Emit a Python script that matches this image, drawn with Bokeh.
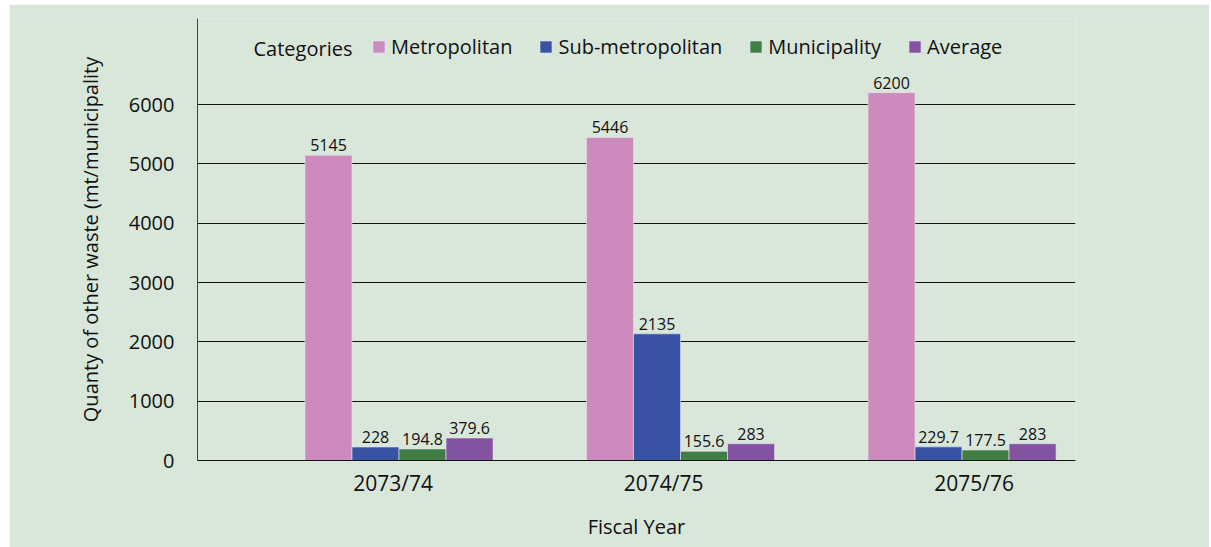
from bokeh.plotting import figure
from bokeh.models import (ColumnDataSource, Range1d, FixedTicker, Legend, LegendItem,
                          Label, LabelSet, Spacer)
from bokeh.layouts import column, row
from bokeh.core.properties import value
from bokeh.embed import file_html
from bokeh.resources import INLINE

# ---- data ----
fiscal_years = ["2073/74", "2074/75", "2075/76"]
series_names = ["Metropolitan", "Sub-metropolitan", "Municipality", "Average"]
metropolitan = [5145, 5446, 6200]
sub_metropolitan = [228, 2135, 229.7]
municipality = [194.8, 155.6, 177.5]
average = [379.6, 283, 283]
y_ticks = [0, 1000, 2000, 3000, 4000, 5000, 6000]

# ---- style ----
colors = ["#cd8abd", "#3853a4", "#3f7f45", "#8352a1"]
BG = "#d9e6da"
FONT = "Open Sans"
TXT = "#111111"
bar_w = 0.167
offsets = [-1.5 * bar_w, -0.5 * bar_w, 0.5 * bar_w, 1.5 * bar_w]
label_shift = [-0.021, -0.060, 0.043]

p = figure(width=1200, height=543, output_backend="svg", toolbar_location=None,
           x_range=Range1d(-0.2158, 2.903), y_range=Range1d(0, 7450),
           min_border_left=188, min_border_right=134, min_border_top=14,
           min_border_bottom=87)
p.background_fill_color = BG
p.border_fill_color = BG
p.outline_line_color = None

series = [metropolitan, sub_metropolitan, municipality, average]
centers = [i + 0.5 for i in range(len(fiscal_years))]
items = []
for name, vals, col, off in zip(series_names, series, colors, offsets):
    src = ColumnDataSource(dict(x=[c + off for c in centers], top=vals,
                                lab=[("%g" % v) for v in vals]))
    r = p.vbar(x="x", top="top", width=bar_w, source=src, fill_color=col,
               line_color="#e6e6ee", line_alpha=0.6, line_width=1)
    items.append(LegendItem(label=name, renderers=[r]))
    ls = LabelSet(x="x", y="top", text="lab", source=src, text_align="center",
                  text_baseline="bottom", y_offset=4, text_font=value(FONT),
                  text_font_size=value("16px"), text_color=TXT)
    p.add_layout(ls)

# axes
p.xaxis.ticker = FixedTicker(ticks=[c + s for c, s in zip(centers, label_shift)])
p.xaxis.major_label_overrides = {c + s: fy for c, s, fy in zip(centers, label_shift, fiscal_years)}
p.yaxis.ticker = FixedTicker(ticks=y_ticks)
for ax in (p.xaxis[0], p.yaxis[0]):
    ax.major_tick_line_color = None
    ax.minor_tick_line_color = None
    ax.major_tick_out = 0
    ax.major_tick_in = 0
    ax.major_label_text_font = FONT
    ax.major_label_text_color = TXT
    ax.axis_label_text_font = FONT
    ax.axis_label_text_font_style = "normal"
    ax.axis_label_text_color = TXT
    ax.axis_label_text_font_size = "20px"
p.xaxis.major_label_text_font_size = "21px"
p.yaxis.major_label_text_font_size = "20px"
p.xaxis.axis_line_color = TXT
p.yaxis.axis_line_color = "#444444"
p.xaxis.major_label_standoff = 8
p.yaxis.major_label_standoff = 23
p.xaxis.axis_label = "Fiscal Year"
p.xaxis.axis_label_standoff = 13
p.yaxis.axis_label = "Quanty of other waste (mt/municipality"
p.yaxis.axis_label_standoff = 22

p.xgrid.grid_line_color = None
p.ygrid.grid_line_color = TXT
p.ygrid.grid_line_width = 1

legend = Legend(items=items, orientation="horizontal", location=(174, 400),
                padding=0, margin=0, spacing=26, label_standoff=5,
                glyph_width=15, glyph_height=15, label_text_font=FONT,
                label_text_font_size="20px", label_text_color=TXT,
                border_line_color=None, background_fill_alpha=0)
p.add_layout(legend, "center")

p.add_layout(Label(x=56, y=412, x_units="screen", y_units="screen", text="Categories",
                   text_font=FONT, text_font_size="20px", text_color=TXT,
                   text_baseline="middle"))

layout = column(Spacer(height=4), row(Spacer(width=9), p))
open("out.html", "w").write(file_html(layout, INLINE))
